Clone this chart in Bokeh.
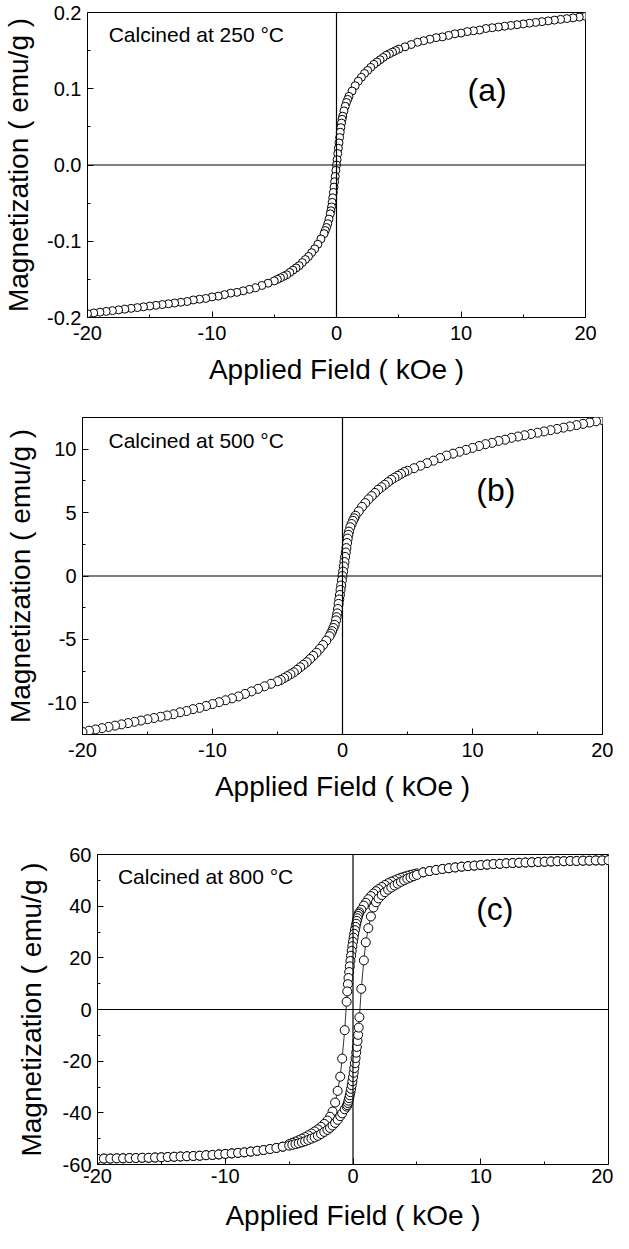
from bokeh.plotting import figure
from bokeh.layouts import column
from bokeh.models import Range1d, FixedTicker, Span, Label, PrintfTickFormatter
from bokeh.embed import file_html
from bokeh.resources import INLINE

FONT = "Liberation Sans"

# ---------------- data ----------------
# Applied field (kOe), sweep +20 -> -20, panels (a) and (b)
H_AB = [20, 19.5, 19, 18.5, 18, 17.5, 17, 16.5, 16, 15.5, 15, 14.5, 14, 13.5, 13, 12.5, 12, 11.5, 11, 10.5,
        10, 9.5, 9, 8.5, 8, 7.5, 7, 6.5, 6, 5.5, 5,
        4.75, 4.5, 4.25, 4, 3.75, 3.5, 3.25, 3, 2.75, 2.5, 2.25, 2, 1.75, 1.5, 1.25, 1,
        0.9, 0.8, 0.7, 0.6,
        0.5, 0.45, 0.4, 0.35, 0.3, 0.25, 0.2, 0.15, 0.1, 0.05, 0, -0.05, -0.1, -0.15, -0.2, -0.25, -0.3,
        -0.35, -0.4, -0.45, -0.5,
        -0.6, -0.7, -0.8, -0.9,
        -1, -1.25, -1.5, -1.75, -2, -2.25, -2.5, -2.75, -3, -3.25, -3.5, -3.75, -4, -4.25, -4.5, -4.75,
        -5, -5.5, -6, -6.5, -7, -7.5, -8, -8.5, -9, -9.5, -10, -10.5, -11, -11.5, -12, -12.5, -13, -13.5,
        -14, -14.5, -15, -15.5, -16, -16.5, -17, -17.5, -18, -18.5, -19, -19.5, -20]

# (a) calcined at 250 C, magnetization (emu/g)
M_A = [0.195, 0.194, 0.193, 0.192, 0.191, 0.190, 0.189, 0.188, 0.187, 0.186, 0.185, 0.184, 0.183, 0.182,
       0.181, 0.180, 0.179, 0.177, 0.176, 0.175, 0.173, 0.172, 0.170, 0.168, 0.167, 0.165, 0.163, 0.161,
       0.158, 0.155, 0.152,
       0.150, 0.148, 0.146, 0.144, 0.141, 0.138, 0.135, 0.132, 0.128, 0.124, 0.120, 0.115, 0.110, 0.104,
       0.097, 0.090,
       0.086, 0.082, 0.077, 0.071,
       0.064, 0.060, 0.055, 0.049, 0.043, 0.036, 0.029, 0.022, 0.015, 0.007, 0.000, -0.007, -0.015,
       -0.022, -0.029, -0.036, -0.043, -0.049, -0.055, -0.060, -0.064,
       -0.071, -0.077, -0.082, -0.086,
       -0.090, -0.097, -0.104, -0.110, -0.115, -0.120, -0.124, -0.128, -0.132, -0.135, -0.138, -0.141,
       -0.144, -0.146, -0.148, -0.150,
       -0.152, -0.155, -0.158, -0.161, -0.163, -0.165, -0.167, -0.168, -0.170, -0.172, -0.173, -0.175,
       -0.176, -0.177, -0.179, -0.180, -0.181, -0.182, -0.183, -0.184, -0.185, -0.186, -0.187, -0.188,
       -0.189, -0.190, -0.191, -0.192, -0.193, -0.194, -0.195]

# (b) calcined at 500 C
M_B = [12.3, 12.2, 12.1, 12.0, 11.9, 11.8, 11.7, 11.6, 11.5, 11.4, 11.3, 11.2, 11.1, 11.0, 10.9, 10.75,
       10.65, 10.5, 10.4, 10.25, 10.1, 9.95, 9.8, 9.65, 9.5, 9.3, 9.1, 8.9, 8.7, 8.5, 8.3,
       8.2, 8.05, 7.9, 7.75, 7.6, 7.4, 7.2, 7.0, 6.8, 6.55, 6.3, 6.05, 5.75, 5.45, 5.1, 4.75,
       4.55, 4.35, 4.1, 3.85,
       3.5, 3.25, 2.95, 2.6, 2.2, 1.85, 1.5, 1.1, 0.75, 0.35, 0.0, -0.35, -0.75, -1.1, -1.5, -1.85, -2.2,
       -2.6, -2.95, -3.25, -3.5,
       -3.85, -4.1, -4.35, -4.55,
       -4.75, -5.1, -5.45, -5.75, -6.05, -6.3, -6.55, -6.8, -7.0, -7.2, -7.4, -7.6, -7.75, -7.9, -8.05, -8.2,
       -8.3, -8.5, -8.7, -8.9, -9.1, -9.3, -9.5, -9.65, -9.8, -9.95, -10.1, -10.25, -10.4, -10.5, -10.65,
       -10.75, -10.9, -11.0, -11.1, -11.2, -11.3, -11.4, -11.5, -11.6, -11.7, -11.8, -11.9, -12.0, -12.1,
       -12.2, -12.3]

# (c) calcined at 800 C: descending branch (+20 -> -20)
H_C_DESC = [20, 19.5, 19, 18.5, 18, 17.5, 17, 16.5, 16, 15.5, 15, 14.5, 14, 13.5, 13, 12.5, 12, 11.5, 11,
            10.5, 10, 9.5, 9, 8.5, 8, 7.5, 7, 6.5, 6, 5.5,
            5, 4.75, 4.5, 4.25, 4, 3.75, 3.5, 3.25, 3, 2.75, 2.5, 2.25,
            2, 1.8, 1.6, 1.4, 1.2, 1, 0.85, 0.65,
            0.5, 0.45, 0.4, 0.35, 0.3, 0.25, 0.2, 0.15, 0.1, 0.05, 0, -0.05, -0.1, -0.15, -0.2, -0.25, -0.3,
            -0.35, -0.4, -0.45, -0.5,
            -0.65, -0.85, -1, -1.2, -1.4, -1.6, -1.8, -2,
            -2.25, -2.5, -2.75, -3, -3.25, -3.5, -3.75, -4, -4.25, -4.5, -4.75, -5,
            -5.5, -6, -6.5, -7, -7.5, -8, -8.5, -9, -9.5, -10, -10.5, -11, -11.5, -12, -12.5, -13, -13.5,
            -14, -14.5, -15, -15.5, -16, -16.5, -17, -17.5, -18, -18.5, -19, -19.5, -20]
M_C_DESC = [57.8, 57.7, 57.7, 57.6, 57.6, 57.5, 57.5, 57.4, 57.4, 57.3, 57.2, 57.1, 57.0, 56.9, 56.8, 56.7,
            56.6, 56.4, 56.3, 56.1, 55.9, 55.7, 55.5, 55.3, 55.0, 54.7, 54.4, 54.0, 53.6, 53.1,
            52.7, 52.4, 52.1, 51.8, 51.4, 51.0, 50.5, 50.0, 49.5, 48.9, 48.2, 47.4,
            46.6, 45.8, 44.9, 43.9, 42.7, 41.3, 40.2, 38.6,
            37.6, 37.0, 36.2, 35.3, 34.3, 33.2, 32.0, 30.7, 29.3, 27.8, 26.2, 24.5, 22.7, 20.8, 18.8, 16.7,
            14.5, 12.2, 9.8, 7.0, 3.0,
            -8.0, -19.0, -26.0, -31.5, -36.0, -39.5, -41.5, -43.0,
            -44.3, -45.4, -46.4, -47.2, -48.0, -48.7, -49.4, -50.0, -50.6, -51.1, -51.6, -52.1,
            -53.1, -53.6, -54.0, -54.4, -54.7, -55.0, -55.3, -55.5, -55.7, -55.9, -56.1, -56.3, -56.4, -56.6,
            -56.7, -56.8, -56.9, -57.0, -57.1, -57.2, -57.3, -57.4, -57.4, -57.5, -57.5, -57.6, -57.6, -57.7,
            -57.7, -57.8]

# (c) ascending branch (-20 -> +20)
H_C_ASC = [-20, -19.5, -19, -18.5, -18, -17.5, -17, -16.5, -16, -15.5, -15, -14.5, -14, -13.5, -13, -12.5,
           -12, -11.5, -11, -10.5, -10, -9.5, -9, -8.5, -8, -7.5, -7, -6.5, -6, -5.5,
           -5, -4.75, -4.5, -4.25, -4, -3.75, -3.5, -3.25, -3, -2.75, -2.5, -2.25,
           -2, -1.8, -1.6, -1.4, -1.2, -1, -0.85, -0.65,
           -0.5, -0.45, -0.4, -0.35, -0.3, -0.25, -0.2, -0.15, -0.1, -0.05, 0, 0.05, 0.1, 0.15, 0.2, 0.25,
           0.3, 0.35, 0.4, 0.45, 0.5,
           0.65, 0.85, 1, 1.2, 1.4, 1.6, 1.8, 2,
           2.25, 2.5, 2.75, 3, 3.25, 3.5, 3.75, 4, 4.25, 4.5, 4.75, 5,
           5.5, 6, 6.5, 7, 7.5, 8, 8.5, 9, 9.5, 10, 10.5, 11, 11.5, 12, 12.5, 13, 13.5, 14, 14.5, 15, 15.5,
           16, 16.5, 17, 17.5, 18, 18.5, 19, 19.5, 20]
M_C_ASC = [-57.8, -57.7, -57.7, -57.6, -57.6, -57.5, -57.5, -57.4, -57.4, -57.3, -57.2, -57.1, -57.0, -56.9,
           -56.8, -56.7, -56.6, -56.4, -56.3, -56.1, -55.9, -55.7, -55.5, -55.3, -55.0, -54.7, -54.4, -54.0,
           -53.6, -53.1,
           -52.7, -52.4, -52.1, -51.8, -51.4, -51.0, -50.5, -50.0, -49.5, -48.9, -48.2, -47.4,
           -46.6, -45.8, -44.9, -43.9, -42.7, -41.3, -40.2, -38.6,
           -37.6, -37.0, -36.2, -35.3, -34.3, -33.2, -32.0, -30.7, -29.3, -27.8, -26.2, -24.5, -22.7, -20.8,
           -18.8, -16.7, -14.5, -12.2, -9.8, -7.0, -3.0,
           8.0, 19.0, 26.0, 31.5, 36.0, 39.5, 41.5, 43.0,
           44.3, 45.4, 46.4, 47.2, 48.0, 48.7, 49.4, 50.0, 50.6, 51.1, 51.6, 52.1,
           53.1, 53.6, 54.0, 54.4, 54.7, 55.0, 55.3, 55.5, 55.7, 55.9, 56.1, 56.3, 56.4, 56.6, 56.7, 56.8,
           56.9, 57.0, 57.1, 57.2, 57.3, 57.4, 57.4, 57.5, 57.5, 57.6, 57.6, 57.7, 57.7, 57.8]

X_TICKS = [-20, -10, 0, 10, 20]
X_MINOR = [-15, -5, 5, 15]
Y_TICKS_A = [-0.2, -0.1, 0.0, 0.1, 0.2]
Y_MINOR_A = [-0.15, -0.05, 0.05, 0.15]
Y_TICKS_B = [-10, -5, 0, 5, 10]
Y_MINOR_B = [-7.5, -2.5, 2.5, 7.5]
Y_TICKS_C = [-60, -40, -20, 0, 20, 40, 60]
Y_MINOR_C = [-50, -30, -10, 10, 30, 50]

X_LABEL = "Applied Field ( kOe )"
Y_LABEL = "Magnetization ( emu/g )"
CALC_TEXT = ["Calcined at 250 °C", "Calcined at 500 °C", "Calcined at 800 °C"]
TAGS = ["(a)", "(b)", "(c)"]


def panel(width, height, bl, br, bt, bb, ylim, yticks, yminor, yfmt,
          calc, calc_xy, tag, tag_xy, x_std, xl_std, yl_std):
    p = figure(width=width, height=height, output_backend="svg", toolbar_location=None,
               x_range=Range1d(-20, 20), y_range=Range1d(*ylim), frame_align=False,
               min_border_left=bl, min_border_right=br, min_border_top=bt, min_border_bottom=bb)
    p.xgrid.visible = False
    p.ygrid.visible = False
    p.outline_line_color = "black"
    p.outline_line_width = 1
    p.outline_line_alpha = 1
    p.background_fill_color = "white"
    p.border_fill_color = "white"

    for ax in (p.xaxis[0], p.yaxis[0]):
        ax.axis_line_color = "black"
        ax.major_tick_line_color = "black"
        ax.minor_tick_line_color = "black"
        ax.major_tick_in = 6
        ax.major_tick_out = 0
        ax.minor_tick_in = 3
        ax.minor_tick_out = 0
        ax.major_label_text_font = FONT
        ax.major_label_text_font_size = "20px"
        ax.major_label_text_color = "black"
        ax.axis_label_text_font = FONT
        ax.axis_label_text_font_size = "28px"
        ax.axis_label_text_font_style = "normal"
        ax.axis_label_text_color = "black"

    p.xaxis[0].ticker = FixedTicker(ticks=X_TICKS, minor_ticks=X_MINOR)
    p.xaxis[0].formatter = PrintfTickFormatter(format="%d")
    p.xaxis[0].axis_label = X_LABEL
    p.xaxis[0].major_label_standoff = x_std
    p.xaxis[0].axis_label_standoff = xl_std

    p.yaxis[0].ticker = FixedTicker(ticks=yticks, minor_ticks=yminor)
    p.yaxis[0].formatter = PrintfTickFormatter(format=yfmt)
    p.yaxis[0].axis_label = Y_LABEL
    p.yaxis[0].major_label_standoff = 6
    p.yaxis[0].axis_label_standoff = yl_std

    p.add_layout(Span(location=0, dimension="width", line_color="black", line_width=1.2))
    p.add_layout(Span(location=0, dimension="height", line_color="black", line_width=1.2))

    p.add_layout(Label(x=calc_xy[0], y=calc_xy[1], text=calc, text_font=FONT, text_font_size="21px",
                       text_baseline="middle", text_align="left", text_color="black"))
    p.add_layout(Label(x=tag_xy[0], y=tag_xy[1], text=tag, text_font=FONT, text_font_size="32px",
                       text_baseline="middle", text_align="center", text_color="black"))
    return p


pa = panel(613, 397, 83, 28, 12, 80, (-0.2, 0.2), Y_TICKS_A, Y_MINOR_A, "%.1f",
           CALC_TEXT[0], (-18.3, 0.171), TAGS[0], (12.1, 0.099), 8, 11, 10)
pa.line(H_AB, M_A, line_color="black", line_width=0.8)
pa.scatter(H_AB, M_A, marker="circle", size=8, fill_color="white", line_color="black", line_width=1)

pb = panel(613, 437, 82, 11, 20, 100, (-12.5, 12.5), Y_TICKS_B, Y_MINOR_B, "%d",
           CALC_TEXT[1], (-18.0, 10.7), TAGS[1], (11.8, 6.8), 8, 11, 9)
pb.line(H_AB, M_B, line_color="black", line_width=0.8)
pb.scatter(H_AB, M_B, marker="circle", size=9, fill_color="white", line_color="black", line_width=1)

pc = panel(613, 399, 97, 5, 20, 68, (-60, 60), Y_TICKS_C, Y_MINOR_C, "%d",
           CALC_TEXT[2], (-18.4, 51.5), TAGS[2], (11.1, 38.8), 4, 14, 13)
pc.line(H_C_DESC, M_C_DESC, line_color="black", line_width=0.8)
pc.line(H_C_ASC, M_C_ASC, line_color="black", line_width=0.8)
pc.scatter(H_C_DESC, M_C_DESC, marker="circle", size=9, fill_color="white", line_color="black", line_width=1)
pc.scatter(H_C_ASC, M_C_ASC, marker="circle", size=9, fill_color="white", line_color="black", line_width=1)

layout = column(pa, pb, pc, spacing=0)
open("out.html", "w").write(file_html(layout, INLINE))
